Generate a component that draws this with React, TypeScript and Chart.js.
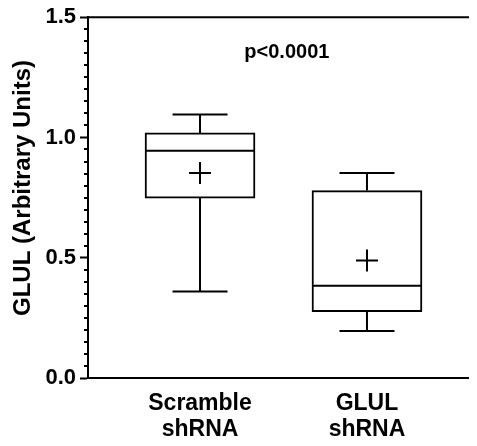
import React, { useEffect, useRef } from "react";
import { Chart, registerables } from "chart.js";

Chart.register(...registerables);

// ---- data ----
const CATEGORY_LABELS: string[][] = [["Scramble", "shRNA"], ["GLUL", "shRNA"]];
const CATEGORY_POS: number[] = [1, 2];
const WHISKER_MIN: number[] = [0.36, 0.195];
const Q1: number[] = [0.748, 0.276];
const MEDIAN: number[] = [0.945, 0.384];
const Q3: number[] = [1.019, 0.779];
const WHISKER_MAX: number[] = [1.096, 0.852];
const MEAN: number[] = [0.852, 0.489];
const Y_TICKS: number[] = [0, 0.5, 1.0, 1.5];
const Y_TITLE = "GLUL (Arbitrary Units)";
const Y_TITLE_CENTER = 0.79; // axis value at which the title is centred
const P_TEXT = "p<0.0001";
const P_POS = { x: 1.52, y: 1.352 };

const FONT = '"Liberation Sans", Arial, Helvetica, sans-serif';

const boxPlugin = {
  id: "boxExtras",
  afterDatasetsDraw(chart: any) {
    const ctx = chart.ctx;
    const xs = chart.scales.x;
    const ys = chart.scales.y;
    const area = chart.chartArea;
    const boxW = 110;
    const capW = 55;
    ctx.save();
    ctx.strokeStyle = "#000";
    ctx.lineWidth = 2;
    ctx.lineCap = "butt";
    for (let i = 0; i < CATEGORY_POS.length; i++) {
      const cx = xs.getPixelForValue(CATEGORY_POS[i]);
      const yMin = ys.getPixelForValue(WHISKER_MIN[i]);
      const yQ1 = ys.getPixelForValue(Q1[i]);
      const yMed = ys.getPixelForValue(MEDIAN[i]);
      const yQ3 = ys.getPixelForValue(Q3[i]);
      const yMax = ys.getPixelForValue(WHISKER_MAX[i]);
      ctx.beginPath();
      ctx.moveTo(cx, yQ3);
      ctx.lineTo(cx, yMax);
      ctx.moveTo(cx, yQ1);
      ctx.lineTo(cx, yMin);
      ctx.moveTo(cx - capW / 2, yMax);
      ctx.lineTo(cx + capW / 2, yMax);
      ctx.moveTo(cx - capW / 2, yMin);
      ctx.lineTo(cx + capW / 2, yMin);
      ctx.moveTo(cx - boxW / 2, yMed);
      ctx.lineTo(cx + boxW / 2, yMed);
      ctx.stroke();
    }
    // top frame line
    ctx.beginPath();
    ctx.moveTo(area.left, area.top);
    ctx.lineTo(chart.width, area.top);
    ctx.stroke();
    // minor ticks
    for (let k = 0; k <= 30; k++) {
      if (k % 10 === 0) continue;
      const py = Math.round(ys.getPixelForValue(k * 0.05));
      ctx.beginPath();
      ctx.moveTo(area.left - 4, py);
      ctx.lineTo(area.left, py);
      ctx.stroke();
    }
    // p value text
    ctx.fillStyle = "#000";
    ctx.font = `bold 20px ${FONT}`;
    ctx.textAlign = "center";
    ctx.textBaseline = "middle";
    ctx.fillText(P_TEXT, xs.getPixelForValue(P_POS.x), ys.getPixelForValue(P_POS.y));
    // y axis title
    ctx.save();
    ctx.translate(23, ys.getPixelForValue(Y_TITLE_CENTER));
    ctx.rotate(-Math.PI / 2);
    ctx.font = `bold 24px ${FONT}`;
    ctx.textAlign = "center";
    ctx.textBaseline = "middle";
    ctx.fillText(Y_TITLE, 0, 0);
    ctx.restore();
    ctx.restore();
  },
};

export default function App() {
  const ref = useRef<HTMLCanvasElement | null>(null);
  useEffect(() => {
    if (!ref.current) return;
    const chart = new Chart(ref.current, {
      type: "bar",
      data: {
        datasets: [
          {
            type: "bar",
            data: CATEGORY_POS.map((x, i) => ({ x, y: [Q1[i], Q3[i]] })) as any,
            backgroundColor: "#fff",
            borderColor: "#000",
            borderWidth: 2,
            borderSkipped: false,
            barThickness: 110,
            order: 2,
          } as any,
          {
            type: "scatter",
            data: CATEGORY_POS.map((x, i) => ({ x, y: MEAN[i] })),
            pointStyle: "cross",
            pointRadius: 11,
            borderColor: "#000",
            borderWidth: 2,
            backgroundColor: "#000",
            order: 1,
          } as any,
        ],
      },
      options: {
        animation: false,
        responsive: false,
        maintainAspectRatio: false,
        layout: { autoPadding: false, padding: { top: 16, right: 0, left: 0, bottom: 0 } },
        plugins: { legend: { display: false }, tooltip: { enabled: false } },
        scales: {
          x: {
            type: "linear",
            offset: false,
            min: 0.329,
            max: 2.659,
            afterBuildTicks: (s: any) => {
              s.ticks = CATEGORY_POS.map((v) => ({ value: v }));
            },
            afterFit: (s: any) => {
              s.height = 68;
              s.paddingLeft = 0;
              s.paddingRight = 0;
            },
            ticks: {
              autoSkip: false,
              maxRotation: 0,
              padding: 13,
              color: "#000",
              font: { family: FONT, size: 23, weight: "bold", lineHeight: 1.13 },
              callback: (_v: any, i: number) => CATEGORY_LABELS[i],
            },
            grid: { display: false, drawTicks: false, offset: false },
            border: { display: true, color: "#000", width: 2 },
          },
          y: {
            type: "linear",
            min: 0,
            max: 1.5,
            afterBuildTicks: (s: any) => {
              s.ticks = Y_TICKS.map((v) => ({ value: v }));
            },
            afterFit: (s: any) => {
              s.width = 88;
            },
            ticks: {
              padding: 4,
              color: "#000",
              font: { family: FONT, size: 22, weight: "bold" },
              callback: (v: any) => Number(v).toFixed(1),
            },
            grid: {
              drawOnChartArea: false,
              drawTicks: true,
              tickLength: 8,
              tickWidth: 2,
              tickColor: "#000",
            },
            border: { display: true, color: "#000", width: 2 },
            title: { display: false },
          },
        },
      },
      plugins: [boxPlugin],
    });
    return () => chart.destroy();
  }, []);
  return (
    <div style={{ margin: "-8px", width: 477, height: 446 }}>
      <canvas ref={ref} width={477} height={446} style={{ display: "block" }} />
    </div>
  );
}
